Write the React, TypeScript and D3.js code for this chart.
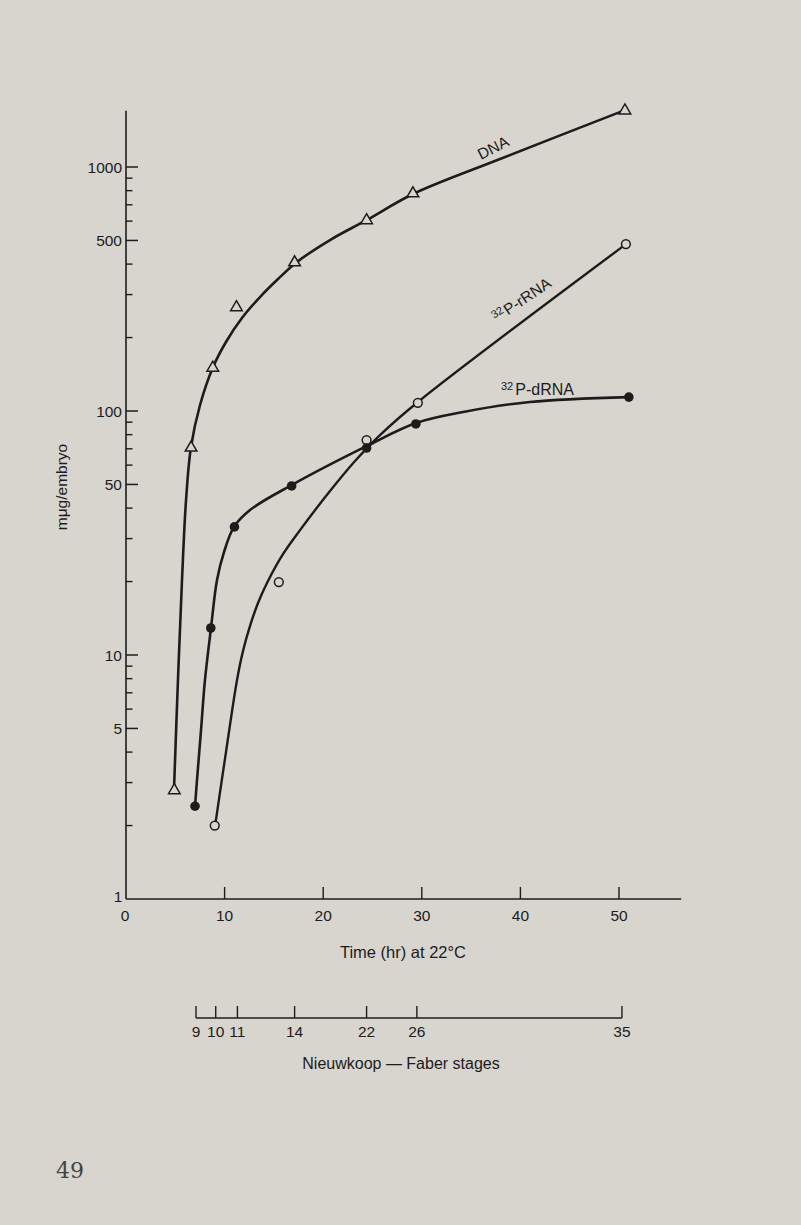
import React from "react";
import * as d3 from "d3";

// ---- data (time in hr, amount in mμg/embryo) ----
const dnaTimes = [4.9, 6.6, 8.8, 11.2, 17.1, 24.4, 29.1, 50.6];
const dnaValues = [2.8, 71, 151, 267, 408, 607, 782, 1710];
const rrnaTimes = [9.0, 15.5, 24.4, 29.6, 50.7];
const rrnaValues = [2.0, 19.9, 76, 108, 483];
const drnaTimes = [7.0, 8.6, 11.0, 16.8, 24.4, 29.4, 51.0];
const drnaValues = [2.4, 12.9, 33.5, 49.3, 70.5, 88.5, 114];

// hand-fitted smooth curves drawn through / near the points
const dnaCurveT = [4.87, 5.27, 5.68, 6.09, 6.59, 7.51, 8.82, 10.14, 11.76, 13.59, 15.42, 17.34, 20.69, 24.44, 29.11, 37.93, 50.6];
const dnaCurveV = [2.82, 7.9, 20.3, 43.2, 71.2, 105.8, 151, 191.8, 240.5, 293.2, 347.5, 408, 502, 607, 775, 1078, 1710];
const rrnaCurveT = [9.03, 10.14, 11.26, 11.87, 12.58, 13.39, 14.3, 15.92, 17.65, 20.69, 23.23, 25.76, 29.61, 50.71];
const rrnaCurveV = [1.99, 4.0, 7.9, 10.4, 13.15, 16.34, 19.73, 25.9, 32.5, 47.0, 62.4, 79.7, 108.9, 483];
const drnaCurveT = [7.0, 7.2, 7.61, 8.01, 8.62, 9.23, 9.94, 10.95, 12.58, 16.84, 24.44, 29.41, 34.2, 40.97, 51.0];
const drnaCurveV = [2.4, 3.07, 4.93, 7.9, 12.9, 20.3, 26.4, 33.5, 39.3, 49.8, 71.9, 89.3, 99.1, 108.9, 114];

const timeTicks = [10, 20, 30, 40, 50];
const yLabels = [1, 5, 10, 50, 100, 500, 1000];
const stageLabels = ["9", "10", "11", "14", "22", "26", "35"];
const stageTimes = [7.1, 9.1, 11.3, 17.1, 24.4, 29.5, 50.3];

const BG = "#d8d5cf";
const INK = "#1c1c1c";
const FONT = "'Liberation Sans', Arial, sans-serif";

export default function App() {
  const x = d3.scaleLinear().domain([0, 50]).range([126, 619]);
  const y = d3.scaleLog().domain([1, 1000]).range([899, 167]);
  const yTop = 1700;
  const xEnd = 56.3;

  const minor: number[] = [];
  [1, 10, 100].forEach((d) => {
    for (let m = 2; m <= 9; m++) minor.push(m * d);
  });

  const line = d3
    .line<[number, number]>()
    .x((d) => x(d[0]))
    .y((d) => y(d[1]))
    .curve(d3.curveCatmullRom.alpha(0.5));

  const zip = (a: number[], b: number[]) => a.map((t, i) => [t, b[i]] as [number, number]);

  const tri = "M0,-6.2L5.8,3.8L-5.8,3.8Z";
  const fs = 15.5;

  return (
    <svg
      width={801}
      height={1225}
      style={{ position: "absolute", left: 0, top: 0, display: "block", background: BG }}
      viewBox="0 0 801 1225"
    >
      <rect x={0} y={0} width={801} height={1225} fill={BG} />
      {/* y axis */}
      <line x1={x(0)} x2={x(0)} y1={y(yTop)} y2={y(1)} stroke={INK} strokeWidth={1.6} />
      {/* x axis */}
      <line x1={x(0)} x2={x(xEnd)} y1={y(1)} y2={y(1)} stroke={INK} strokeWidth={1.6} />
      {yLabels.filter((v) => v !== 1).map((v) => (
        <line key={"M" + v} x1={x(0)} x2={x(0) + 12} y1={y(v)} y2={y(v)} stroke={INK} strokeWidth={1.5} />
      ))}
      {minor.filter((v) => !yLabels.includes(v)).map((v) => (
        <line key={"m" + v} x1={x(0)} x2={x(0) + 6.5} y1={y(v)} y2={y(v)} stroke={INK} strokeWidth={1.4} />
      ))}
      {yLabels.filter((v) => v !== 1).map((v) => (
        <text key={"L" + v} x={x(0) - 4} y={y(v) + 5.5} textAnchor="end" fontFamily={FONT} fontSize={fs} fill={INK}>
          {v}
        </text>
      ))}
      <text x={x(0) - 8} y={y(1) + 3} textAnchor="middle" fontFamily={FONT} fontSize={fs} fill={INK}>1</text>
      <text x={x(0) - 1} y={y(1) + 22} textAnchor="middle" fontFamily={FONT} fontSize={fs} fill={INK}>0</text>
      {timeTicks.map((t) => (
        <g key={"t" + t}>
          <line x1={x(t)} x2={x(t)} y1={y(1)} y2={y(1) - 12} stroke={INK} strokeWidth={1.4} />
          <text x={x(t)} y={y(1) + 22} textAnchor="middle" fontFamily={FONT} fontSize={fs} fill={INK}>
            {t}
          </text>
        </g>
      ))}
      <text x={403} y={958} textAnchor="middle" fontFamily={FONT} fontSize={16.5} fill={INK}>
        Time (hr) at 22°C
      </text>
      <text transform="translate(67,487) rotate(-90)" textAnchor="middle" fontFamily={FONT} fontSize={15.5} fill={INK}>
        mμg/embryo
      </text>

      {/* stage axis */}
      <line x1={x(stageTimes[0])} x2={x(stageTimes[stageTimes.length - 1])} y1={1018} y2={1018} stroke={INK} strokeWidth={1.5} />
      {stageTimes.map((t, i) => (
        <g key={"s" + i}>
          <line x1={x(t)} x2={x(t)} y1={1018} y2={1006} stroke={INK} strokeWidth={1.4} />
          <text x={x(t)} y={1037} textAnchor="middle" fontFamily={FONT} fontSize={fs} fill={INK}>
            {stageLabels[i]}
          </text>
        </g>
      ))}
      <text x={401} y={1069} textAnchor="middle" fontFamily={FONT} fontSize={16} fill={INK}>
        Nieuwkoop — Faber stages
      </text>

      {/* curves */}
      <path d={line(zip(dnaCurveT, dnaCurveV)) || ""} fill="none" stroke={INK} strokeWidth={2.6} />
      <path d={line(zip(rrnaCurveT, rrnaCurveV)) || ""} fill="none" stroke={INK} strokeWidth={2.4} />
      <path d={line(zip(drnaCurveT, drnaCurveV)) || ""} fill="none" stroke={INK} strokeWidth={2.6} />

      {/* markers */}
      {dnaTimes.map((t, i) => (
        <path key={"dn" + i} d={tri} transform={`translate(${x(t)},${y(dnaValues[i])})`} fill={BG} stroke={INK} strokeWidth={1.5} />
      ))}
      {rrnaTimes.map((t, i) => (
        <circle key={"rr" + i} cx={x(t)} cy={y(rrnaValues[i])} r={4.4} fill={BG} stroke={INK} strokeWidth={1.5} />
      ))}
      {drnaTimes.map((t, i) => (
        <circle key={"dr" + i} cx={x(t)} cy={y(drnaValues[i])} r={4.8} fill={INK} />
      ))}

      {/* curve labels */}
      <text transform="translate(481,160) rotate(-27)" fontFamily={FONT} fontSize={15.5} fill={INK}>
        DNA
      </text>
      <text transform="translate(497,323) rotate(-34)" fontFamily={FONT} fontSize={15.5} fill={INK}>
        <tspan fontSize={11} dy={-5}>32</tspan>
        <tspan dy={5} dx={1}>P-rRNA</tspan>
      </text>
      <text x={501} y={395} fontFamily={FONT} fontSize={16} fill={INK}>
        <tspan fontSize={11} dy={-5}>32</tspan>
        <tspan dy={5} dx={2}>P-dRNA</tspan>
      </text>

      <text x={70} y={1178} textAnchor="middle" fontFamily="'DejaVu Serif', 'Liberation Serif', serif" fontSize={22} fill="#444">
        49
      </text>
    </svg>
  );
}
